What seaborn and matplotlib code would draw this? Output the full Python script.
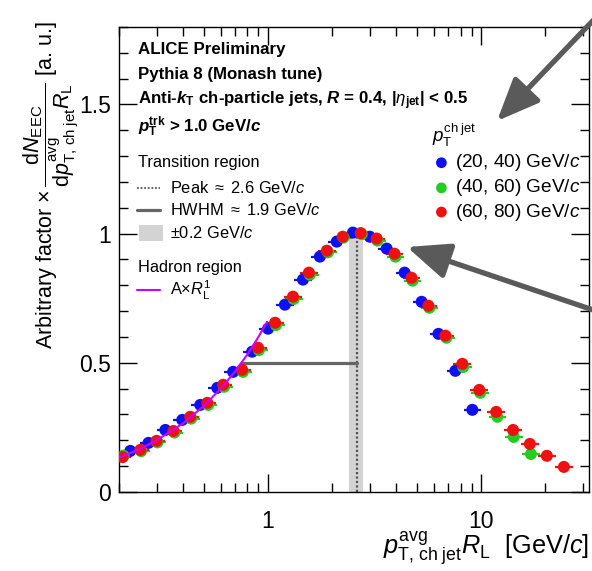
import numpy as np
import pandas as pd
import matplotlib
matplotlib.use("Agg")
import matplotlib.pyplot as plt
import seaborn as sns
from matplotlib.ticker import LogLocator, NullFormatter, MultipleLocator
from matplotlib.patches import Rectangle

# ---------------- data ----------------
series_names = ["(20, 40) GeV/$c$", "(40, 60) GeV/$c$", "(60, 80) GeV/$c$"]
series_colors = ["#1010ee", "#22cc22", "#ee1111"]

blue_x = [0.226, 0.275, 0.330, 0.396, 0.481, 0.578, 0.686, 0.842, 1.00, 1.20, 1.458,
          1.75, 2.10, 2.50, 3.00, 3.60, 4.37, 5.25, 6.30, 7.56, 9.08]
blue_y = [0.159, 0.190, 0.240, 0.279, 0.337, 0.403, 0.465, 0.543, 0.632, 0.725, 0.822,
          0.911, 0.969, 1.004, 0.988, 0.942, 0.849, 0.736, 0.612, 0.469, 0.318]

green_x = [0.210, 0.254, 0.303, 0.364, 0.436, 0.524, 0.622, 0.763, 0.907, 1.09, 1.32,
           1.57, 1.91, 2.26, 2.75, 3.26, 3.96, 4.76, 5.71, 6.86, 8.23, 9.89, 11.9, 14.2, 17.1]
green_y = [0.140, 0.158, 0.192, 0.230, 0.284, 0.337, 0.407, 0.465, 0.549, 0.646, 0.747,
           0.841, 0.928, 0.985, 0.998, 0.973, 0.911, 0.818, 0.713, 0.597, 0.484, 0.384,
           0.291, 0.213, 0.147]

red_x = [0.208, 0.252, 0.300, 0.360, 0.432, 0.519, 0.616, 0.756, 0.898, 1.079, 1.309,
         1.555, 1.887, 2.24, 2.72, 3.23, 3.92, 4.71, 5.65, 6.79, 8.15, 9.79, 11.75,
         14.1, 16.9, 20.3, 24.4]
red_y = [0.135, 0.163, 0.198, 0.236, 0.291, 0.345, 0.415, 0.473, 0.558, 0.655, 0.756,
         0.849, 0.934, 0.988, 1.002, 0.981, 0.922, 0.829, 0.721, 0.605, 0.496, 0.395,
         0.310, 0.240, 0.186, 0.140, 0.097]

hadron_x = [0.20, 0.25, 0.30, 0.40, 0.50, 0.60, 0.70, 0.80, 0.90, 0.99]
hadron_y = [0.133, 0.166, 0.200, 0.266, 0.333, 0.400, 0.466, 0.532, 0.599, 0.659]

peak_x = 2.6
peak_lo, peak_hi = 2.4, 2.8
peak_top = 1.0
hwhm_left = 0.75
half_max = 0.5

header_lines = [
    "ALICE Preliminary",
    "Pythia 8 (Monash tune)",
    r"Anti-$\mathsf{k}_{\mathbf{T}}$ ch-particle jets, $\mathsf{R}$ = 0.4, |$\eta_{\mathbf{jet}}$| < 0.5",
    r"$\mathsf{p}_{\mathbf{T}}^{\mathbf{trk}}$ > 1.0 GeV/$\mathsf{c}$",
]

# ---------------- style ----------------
sns.set_theme(style="ticks")
plt.rcParams['font.family'] = ['Liberation Sans', 'DejaVu Sans']
plt.rcParams['mathtext.fontset'] = 'custom'
plt.rcParams['mathtext.rm'] = 'Liberation Sans'
plt.rcParams['mathtext.it'] = 'Liberation Sans:italic'
plt.rcParams['mathtext.bf'] = 'Liberation Sans:bold'
plt.rcParams['mathtext.sf'] = 'Liberation Sans:bold:italic'
for k in ['text.color', 'axes.labelcolor', 'xtick.color', 'ytick.color',
          'xtick.labelcolor', 'ytick.labelcolor']:
    plt.rcParams[k] = 'black'

fig = plt.figure(figsize=(5.92, 5.71), dpi=100)
ax = fig.add_axes([0.2010, 0.1384, 0.7939, 0.8144])

# ---------------- data marks ----------------
frames = []
for name, xs, ys in zip(series_names, [blue_x, green_x, red_x], [blue_y, green_y, red_y]):
    frames.append(pd.DataFrame({"x": xs, "y": ys, "series": name}))
df = pd.concat(frames, ignore_index=True)

pal = dict(zip(series_names, series_colors))
for name in series_names:
    sub = df[df.series == name]
    xs = sub.x.to_numpy()
    ax.errorbar(xs, sub.y, xerr=[xs - xs / 1.1, xs * 1.1 - xs], fmt='none',
                ecolor=pal[name], elinewidth=1.6, capsize=0, zorder=3)

sns.scatterplot(data=df, x="x", y="y", hue="series", hue_order=series_names,
                palette=pal, s=75, edgecolor='none', linewidth=0, legend=False,
                ax=ax, zorder=4)

# transition region
ax.axvspan(peak_lo, peak_hi, ymin=0, ymax=peak_top / 1.8, color='#d3d3d3', lw=0, zorder=1)
ax.plot([peak_x, peak_x], [0, peak_top], color='#555555', lw=1.6,
        ls=(0, (1, 1)), zorder=2)
ax.plot([hwhm_left, peak_x], [half_max, half_max], color='#666666', lw=2.3, zorder=2)

# hadron region fit
sns.lineplot(x=hadron_x, y=hadron_y, color='#cc00ff', lw=1.5, ax=ax, zorder=5)

# ---------------- axes ----------------
ax.set_xscale('log')
ax.set_xlim(0.2, 32)
ax.set_ylim(0, 1.8)
ax.set_xticks([1, 10], labels=["1", "10"])
ax.xaxis.set_minor_locator(LogLocator(base=10, subs=np.arange(2, 10)))
ax.xaxis.set_minor_formatter(NullFormatter())
ax.set_yticks([0, 0.5, 1, 1.5], labels=["0", "0.5", "1", "1.5"])
ax.yaxis.set_minor_locator(MultipleLocator(0.1))
ax.tick_params(which='both', direction='in', top=True, right=True, color='black',
               labelcolor='black', width=1.0, labelsize=16.5)
ax.tick_params(which='major', length=13)
ax.tick_params(which='minor', length=6.5)
ax.tick_params(axis='x', which='major', pad=13)
ax.tick_params(axis='y', which='major', pad=6)
for s in ax.spines.values():
    s.set_color('black')
    s.set_linewidth(1.0)

ax.set_xlabel(r"$p^{\mathrm{avg}}_{\mathrm{T,\,ch\;jet}}R_{\mathrm{L}}$  [GeV/$c$]",
              fontsize=18.3, loc='right', color='black')
ax.xaxis.set_label_coords(1.0, -0.080)
ax.set_ylabel(r"Arbitrary factor $\times\,\dfrac{\mathrm{d}N_{\mathrm{EEC}}}"
              r"{\mathrm{d}p^{\mathrm{avg}}_{\mathrm{T,\,ch\;jet}}R_{\mathrm{L}}}$ [a. u.]",
              fontsize=15.5, loc='top', color='black')
ax.yaxis.set_label_coords(-0.082, 1.012)

# ---------------- header text ----------------
for txt, yy in zip(header_lines, [0.951, 0.897, 0.841, 0.785]):
    ax.text(0.040, yy, txt, transform=ax.transAxes, fontsize=12.2, fontweight='bold',
            ha='left', va='center')

# ---------------- left legend ----------------
T = ax.transAxes
fs_l = 11.8
ax.text(0.040, 0.708, "Transition region", transform=T, fontsize=fs_l, va='center')
ax.plot([0.038, 0.087], [0.654, 0.654], transform=T, color='#555555', lw=1.3,
        ls=(0, (1, 1)))
ax.text(0.109, 0.654, r"Peak $\approx$ 2.6 GeV/$c$", transform=T, fontsize=fs_l, va='center')
ax.plot([0.038, 0.087], [0.606, 0.606], transform=T, color='#666666', lw=2.3)
ax.text(0.109, 0.606, r"HWHM $\approx$ 1.9 GeV/$c$", transform=T, fontsize=fs_l, va='center')
ax.add_patch(Rectangle((0.043, 0.540), 0.051, 0.034, transform=T, color='#d3d3d3', lw=0))
ax.text(0.109, 0.557, r"$\pm$0.2 GeV/$c$", transform=T, fontsize=fs_l, va='center')
ax.text(0.040, 0.482, "Hadron region", transform=T, fontsize=fs_l, va='center')
ax.plot([0.038, 0.087], [0.434, 0.434], transform=T, color='#cc00ff', lw=1.5)
ax.text(0.109, 0.434, r"A$\times R_{\mathrm{L}}^{1}$", transform=T, fontsize=fs_l, va='center')

# ---------------- right legend ----------------
ax.text(0.665, 0.766, r"$p_{\mathrm{T}}^{\mathrm{ch\;jet}}$", transform=T, fontsize=13.5,
        va='center')
for name, col, yy in zip(series_names, series_colors, [0.708, 0.654, 0.602]):
    ax.scatter([0.686], [yy], transform=T, s=60, color=col, edgecolor='none', zorder=6)
    ax.text(0.714, yy, name, transform=T, fontsize=13.7, va='center')

# ---------------- arrows ----------------
for tail, head in [((605, 571 - 8), (497, 571 - 121)), ((605, 571 - 314), (407, 571 - 247))]:
    ax.annotate("", xy=head, xytext=tail, xycoords='figure pixels',
                textcoords='figure pixels', annotation_clip=False,
                arrowprops=dict(arrowstyle='-|>,head_length=1.3,head_width=0.55',
                                lw=3.8, color='#5a5a5a', mutation_scale=20,
                                shrinkA=0, shrinkB=0))

fig.savefig("out.png", dpi=100)
